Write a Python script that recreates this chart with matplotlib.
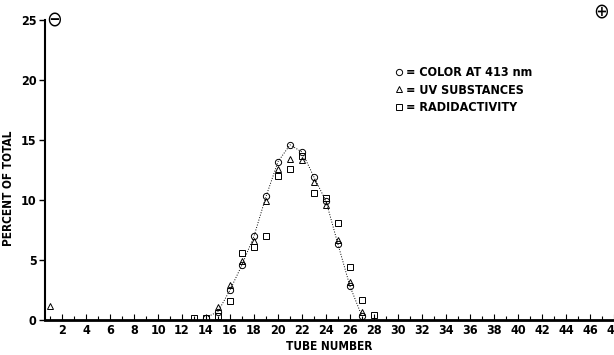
"""Electrophoresis tube profile: colour, UV and radioactivity per tube."""

import matplotlib
matplotlib.use('Agg')
import matplotlib.pyplot as plt
from matplotlib.ticker import MultipleLocator

plt.rcParams['font.family'] = ['DejaVu Sans']
plt.rcParams['font.stretch'] = 'condensed'

# Data
color_tubes = [14, 15, 16, 17, 18, 19, 20, 21, 22, 23, 24, 25, 26, 27]
color_pct = [0.2, 0.7, 2.5, 4.6, 7.0, 10.3, 13.2, 14.6, 14.0, 11.9, 9.9, 6.3, 2.8, 0.3]

uv_tubes = [1, 15, 16, 17, 18, 19, 20, 21, 22, 23, 24, 25, 26, 27]
uv_pct = [1.2, 1.1, 2.9, 4.9, 6.6, 9.9, 12.6, 13.4, 13.3, 11.5, 9.6, 6.7, 3.2, 0.7]

radio_tubes = [13, 14, 15, 16, 17, 18, 19, 20, 21, 22, 23, 24, 25, 26, 27, 28]
radio_pct = [0.15, 0.2, 0.3, 1.6, 5.6, 6.1, 7.0, 12.0, 12.6, 13.7, 10.6, 10.2, 8.1, 4.4, 1.7, 0.4]

x_ticks = list(range(2, 50, 2))
y_ticks = [0, 5, 10, 15, 20, 25]

#########################################
### Figure

fig = plt.figure(figsize=(6.14, 3.55), dpi=100)
ax = fig.add_axes([0.0733, 0.0986, 0.9267, 0.845])

mk = dict(markerfacecolor='none', markeredgecolor='k', markeredgewidth=0.7, color='k')
# dotted guide curve through the colour points
ax.plot(color_tubes, color_pct, ':', color='k', lw=0.7, zorder=1)
h_col, = ax.plot(color_tubes, color_pct, 'o', ms=4.5, linestyle='none', **mk)
h_uv, = ax.plot(uv_tubes, uv_pct, '^', ms=4.5, linestyle='none', **mk)
h_rad, = ax.plot(radio_tubes, radio_pct, 's', ms=4, linestyle='none', **mk)

ax.set_xlim(0.58, 48.0)
ax.set_ylim(0, 25)
ax.set_xticks(x_ticks)
ax.xaxis.set_minor_locator(MultipleLocator(1))
ax.set_yticks(y_ticks)

for side in ['top', 'right']:
    ax.spines[side].set_visible(False)
ax.spines['bottom'].set_linewidth(2)
ax.spines['left'].set_linewidth(1.5)
ax.tick_params(axis='x', direction='in', length=4, width=0.8, pad=3)
ax.tick_params(axis='x', which='minor', direction='in', length=3, width=0.8)
ax.tick_params(axis='y', direction='out', length=4, width=1, pad=2)
for lab in ax.get_xticklabels() + ax.get_yticklabels():
    lab.set_fontweight('bold')
    lab.set_fontsize(9)

ax.set_xlabel('TUBE NUMBER', fontweight='bold', fontsize=8.5, labelpad=2)
ax.set_ylabel('PERCENT OF TOTAL', fontweight='bold', fontsize=8.5)
ax.yaxis.set_label_coords(-0.053, 0.44)

ax.legend([h_col, h_uv, h_rad],
          ['= COLOR AT 413 nm', '= UV SUBSTANCES', '= RADIDACTIVITY'],
          loc='upper left', bbox_to_anchor=(0.592, 0.883), frameon=False,
          handletextpad=0.05, handlelength=1.0, labelspacing=0.35,
          prop={'weight': 'bold', 'size': 9, 'stretch': 'condensed'})

ax.text(1.3, 25, '\u2296', fontsize=15, ha='center', va='center',
        family=['DejaVu Sans'], clip_on=False)
ax.text(46.9, 25.7, '\u2295', fontsize=15, ha='center', va='center',
        family=['DejaVu Sans'], clip_on=False)

fig.savefig('out.png', dpi=100)
